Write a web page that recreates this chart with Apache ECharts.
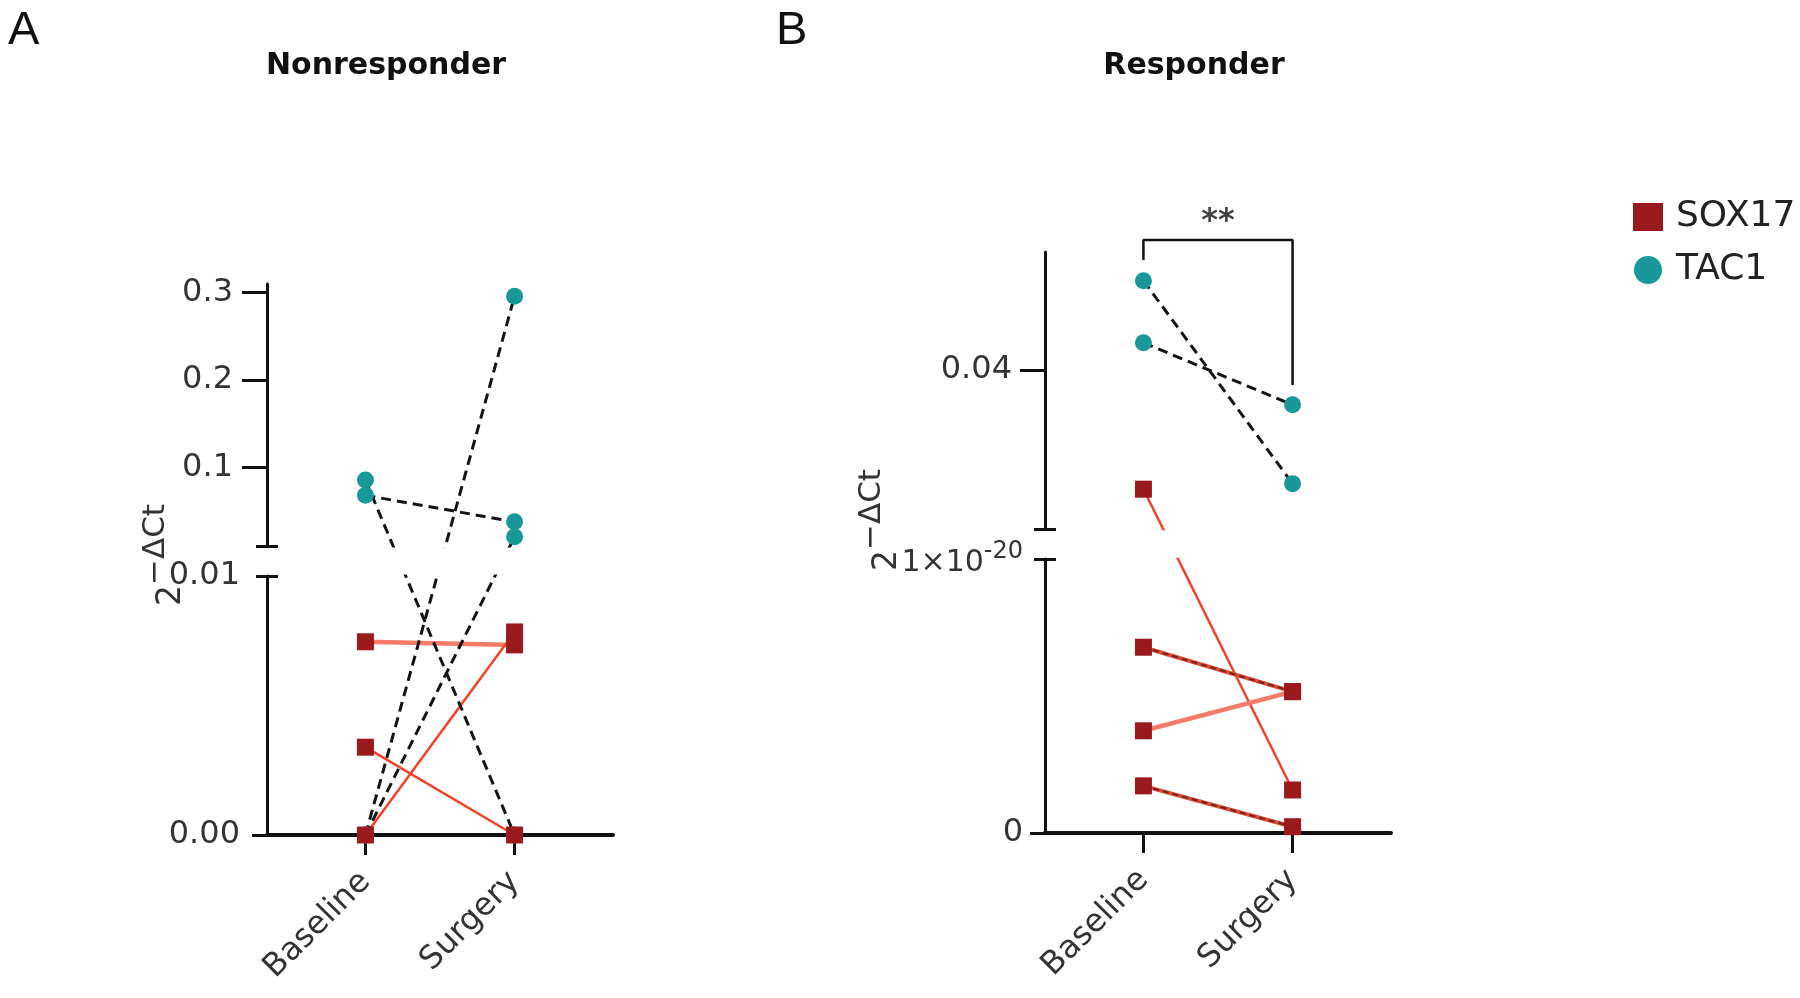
<!DOCTYPE html>
<html>
<head>
<meta charset="utf-8">
<script src="https://cdn.jsdelivr.net/npm/echarts@6/dist/echarts.min.js"></script>
<style>html,body{margin:0;padding:0;background:#fff}#c{width:1800px;height:998px}</style>
</head>
<body>
<div id="c"></div>
<script>
// ---------------- DATA ----------------
const categories = ['Baseline', 'Surgery'];

// Panel A – Nonresponder (index = paired subject)
const nonTAC1Baseline  = [0.0855, 0.068, 0, 0];
const nonTAC1Surgery   = [0, 0.0377, 0.296, 0.0205];
const nonSOX17Baseline = [0.00746, 0.00339, 0];
const nonSOX17Surgery  = [0.00734, 0, 0.00784];

// Panel B – Responder
const resTAC1Baseline  = [0.0512, 0.0434];
const resTAC1Surgery   = [0.0257, 0.0356];
const resSOX17Baseline = [0.025, 0.678e-20, 0.373e-20, 0.172e-20];
const resSOX17Surgery  = [0.157e-20, 0.516e-20, 0.516e-20, 0.023e-20];

// Tick labels
const nonUpperTicks = [0.1, 0.2, 0.3];
const nonLowerTicks = [0, 0.01];
const resUpperTicks = [0.04];
const resLowerTicks = [0, 1e-20];

// Significance annotation (Responder, TAC1)
const resSignifText = '**';
const resBracket = { top: 0.0563, leftEnd: 0.0538, rightEnd: 0.0381 };

// ---------------- STYLE / LAYOUT ----------------
const FONT = "'DejaVu Sans', sans-serif";
const INK = '#111';
const LABEL = '#333';
const TEAL = '#1A9799';
const DARKRED = '#9B1A1D';

const lineStylePresets = {
  tac1:     { color: '#141414', width: 3, type: [10, 6] },
  soxRed:   { color: '#F0432A', width: 2.5 },
  soxLight: { color: '#F37B67', width: 4.5 },
  soxDark:  { color: '#DC4A33', width: 4 }
};
const darkOverlay = { color: 'rgba(70,20,20,0.7)', width: 2, type: [6, 4] };

const panels = [
  {
    title: 'Nonresponder', titleX: 386, letter: 'A', letterX: 8,
    yTitleX: 164, yTitleY: 555,
    left: 267, width: 346,
    upper: { top: 284, height: 262, min: 0.01, max: 0.31, unit: 1,
             ticks: nonUpperTicks, labels: nonUpperTicks, tickLen: 25, margin: 34,
             fmt: v => v.toFixed(1) },
    lower: { top: 576, height: 259, min: 0, max: 0.01, unit: 1,
             ticks: [0], labels: nonLowerTicks, tickLen: 15, margin: 27,
             fmt: v => v.toFixed(2) },
    tac1:  { b: nonTAC1Baseline, s: nonTAC1Surgery, styles: ['tac1', 'tac1', 'tac1', 'tac1'] },
    sox17: { b: nonSOX17Baseline, s: nonSOX17Surgery, styles: ['soxLight', 'soxRed', 'soxRed'] }
  },
  {
    title: 'Responder', titleX: 1194, letter: 'B', letterX: 776,
    yTitleX: 880, yTitleY: 520,
    left: 1045, width: 346,
    upper: { top: 252, height: 277, min: 0.02, max: 0.0548, unit: 1,
             ticks: resUpperTicks, labels: resUpperTicks, tickLen: 25, margin: 33,
             fmt: v => v.toFixed(2) },
    lower: { top: 559, height: 274, min: 0, max: 1e-20, unit: 1e-20,
             ticks: [0], labels: resLowerTicks, tickLen: 15, margin: 22,
             fmt: v => (v === 0 ? '0' : '{n|1×10}{s|-20}') },
    tac1:  { b: resTAC1Baseline, s: resTAC1Surgery, styles: ['tac1', 'tac1'] },
    sox17: { b: resSOX17Baseline, s: resSOX17Surgery, styles: ['soxRed', 'soxDark', 'soxLight', 'soxDark'] },
    bracket: resBracket, signif: resSignifText
  }
];

// piecewise mapping of a value to the (pixel‑proportional) broken-axis coordinate
function toT(p, v) {
  const L = p.lower, U = p.upper;
  const bottom = L.top + L.height;
  if (v <= L.max) return (v - L.min) / (L.max - L.min) * L.height;
  return (bottom - (U.top + U.height)) + (v - U.min) / (U.max - U.min) * U.height;
}

const grid = [], xAxis = [], yAxis = [], series = [], graphic = [];
const XMIN = -0.66, XMAX = 1.66;

panels.forEach(p => {
  const bottom = p.lower.top + p.lower.height;
  ['upper', 'lower'].forEach(segName => {
    const seg = p[segName];
    const isLower = segName === 'lower';
    const gi = grid.length;
    grid.push({ left: p.left, top: seg.top, width: p.width, height: seg.height, containLabel: false });

    const xi = xAxis.length;
    if (isLower) {
      xAxis.push({
        type: 'value', gridIndex: gi, min: XMIN, max: XMAX,
        axisLine: { show: true, onZero: false, lineStyle: { color: INK, width: 4 } },
        axisTick: { show: true, customValues: [0, 1], length: 20, lineStyle: { color: INK, width: 3 } },
        axisLabel: { show: true, customValues: [0, 1], formatter: v => categories[Math.round(v)],
                     rotate: 45, margin: 42, fontSize: 32, fontFamily: FONT, color: LABEL },
        splitLine: { show: false }
      });
    } else {
      xAxis.push({ type: 'value', gridIndex: gi, show: false, min: XMIN, max: XMAX });
    }

    const unit = seg.unit;
    const amin = seg.min / unit, amax = seg.max / unit;
    const cap = isLower ? amax : amin;
    // main visible axis
    yAxis.push({
      type: 'value', gridIndex: gi, position: 'left', min: amin, max: amax,
      axisLine: { show: true, onZero: false, lineStyle: { color: INK, width: 3 } },
      axisTick: { show: true, customValues: seg.ticks.map(v => v / unit), length: seg.tickLen,
                  lineStyle: { color: INK, width: 3 } },
      axisLabel: { show: true, customValues: seg.labels.map(v => v / unit), formatter: seg.fmt,
                   margin: seg.margin, fontSize: 32, fontFamily: FONT, color: LABEL,
                   rich: { n: { fontSize: 30, fontFamily: FONT, color: LABEL, verticalAlign: 'bottom' },
                           s: { fontSize: 24, fontFamily: FONT, color: LABEL, padding: [0, 0, 14, 0] } } },
      splitLine: { show: false }
    });
    // break caps (tick on both sides of the axis)
    [false, true].forEach(inside => {
      yAxis.push({
        type: 'value', gridIndex: gi, position: 'left', min: amin, max: amax,
        axisLine: { show: false, onZero: false },
        axisTick: { show: true, inside: inside, customValues: [cap], length: 11, lineStyle: { color: INK, width: 3 } },
        axisLabel: { show: false }, splitLine: { show: false }
      });
    });
    // hidden data axis in broken-axis coordinates
    const di = yAxis.length;
    yAxis.push({
      type: 'value', gridIndex: gi, show: false,
      min: isLower ? 0 : bottom - seg.top - seg.height,
      max: isLower ? seg.height : bottom - seg.top
    });

    const inSeg = v => (isLower ? v <= p.lower.max : v > p.lower.max);

    // connecting lines (clipped to this segment)
    const addPairs = (gene, z) => {
      const g = p[gene];
      g.b.forEach((bv, i) => {
        const st = lineStylePresets[g.styles[i]];
        const data = [[0, toT(p, bv)], [1, toT(p, g.s[i])]];
        series.push({ type: 'line', xAxisIndex: xi, yAxisIndex: di, data: data, showSymbol: false,
                      symbol: 'none', clip: true, lineStyle: st, z: z, silent: true });
        if (g.styles[i] === 'soxDark') {
          series.push({ type: 'line', xAxisIndex: xi, yAxisIndex: di, data: data, showSymbol: false,
                        symbol: 'none', clip: true, lineStyle: darkOverlay, z: z, silent: true });
        }
      });
    };
    addPairs('sox17', 2);
    addPairs('tac1', 3);

    // markers
    const pts = g => {
      const out = [];
      g.b.forEach(v => { if (inSeg(v)) out.push([0, toT(p, v)]); });
      g.s.forEach(v => { if (inSeg(v)) out.push([1, toT(p, v)]); });
      return out;
    };
    series.push({ type: 'scatter', name: 'TAC1', xAxisIndex: xi, yAxisIndex: di, data: pts(p.tac1),
                  symbol: 'circle', symbolSize: 17, itemStyle: { color: TEAL, opacity: 1 }, clip: false, z: 5 });
    series.push({ type: 'scatter', name: 'SOX17', xAxisIndex: xi, yAxisIndex: di, data: pts(p.sox17),
                  symbol: 'rect', symbolSize: 17, itemStyle: { color: DARKRED, opacity: 1 }, clip: false, z: 6 });

    // significance bracket
    if (!isLower && p.bracket) {
      const b = p.bracket;
      series.push({ type: 'line', xAxisIndex: xi, yAxisIndex: di, clip: false, showSymbol: false, symbol: 'none',
                    data: [[0, toT(p, b.leftEnd)], [0, toT(p, b.top)], [1, toT(p, b.top)], [1, toT(p, b.rightEnd)]],
                    lineStyle: { color: INK, width: 2.5 }, z: 4, silent: true });
      series.push({ type: 'scatter', xAxisIndex: xi, yAxisIndex: di, clip: false, symbolSize: 0,
                    data: [[0.5, toT(p, b.top)]], silent: true,
                    label: { show: true, formatter: p.signif, position: 'top', distance: 2,
                             fontSize: 32, fontWeight: 'bold', fontFamily: FONT, color: INK } });
    }
  });

  // titles, panel letters, y-axis titles
  graphic.push({ type: 'text', x: p.titleX, y: 66,
                 style: { text: p.title, align: 'center', verticalAlign: 'middle', fontFamily: FONT,
                          fontWeight: 'bold', fontSize: 30, fill: INK } });
  graphic.push({ type: 'text', x: p.letterX, y: 31,
                 style: { text: p.letter, align: 'left', verticalAlign: 'middle',
                          fontFamily: "'Liberation Sans', Arial, sans-serif", fontSize: 47, fill: INK } });
  graphic.push({ type: 'text', x: p.yTitleX, y: p.yTitleY, rotation: Math.PI / 2,
                 style: { text: '{b|2}{s|−ΔCt}', align: 'center', verticalAlign: 'middle',
                          fontFamily: FONT, fontSize: 32, fill: LABEL,
                          rich: { b: { fontSize: 33, fontFamily: FONT, fill: LABEL, verticalAlign: 'bottom' },
                                  s: { fontSize: 31, fontFamily: FONT, fill: LABEL, padding: [0, 0, 17, 0] } } } });
});

const option = {
  animation: false,
  backgroundColor: '#fff',
  grid: grid, xAxis: xAxis, yAxis: yAxis, series: series, graphic: graphic,
  legend: {
    orient: 'vertical', left: 1628, top: 194, itemWidth: 30, itemHeight: 28, itemGap: 17,
    selectedMode: false,
    data: [{ name: 'SOX17', icon: 'rect', itemStyle: { color: DARKRED, borderWidth: 0, opacity: 1 } },
           { name: 'TAC1', icon: 'circle', itemStyle: { color: TEAL, borderWidth: 0, opacity: 1 } }],
    textStyle: { fontFamily: FONT, fontSize: 36, color: '#222', padding: [0, 0, 0, 8] }
  }
};

const chart = echarts.init(document.getElementById('c'), null, { renderer: 'canvas' });
chart.setOption(option);
</script>
</body>
</html>
